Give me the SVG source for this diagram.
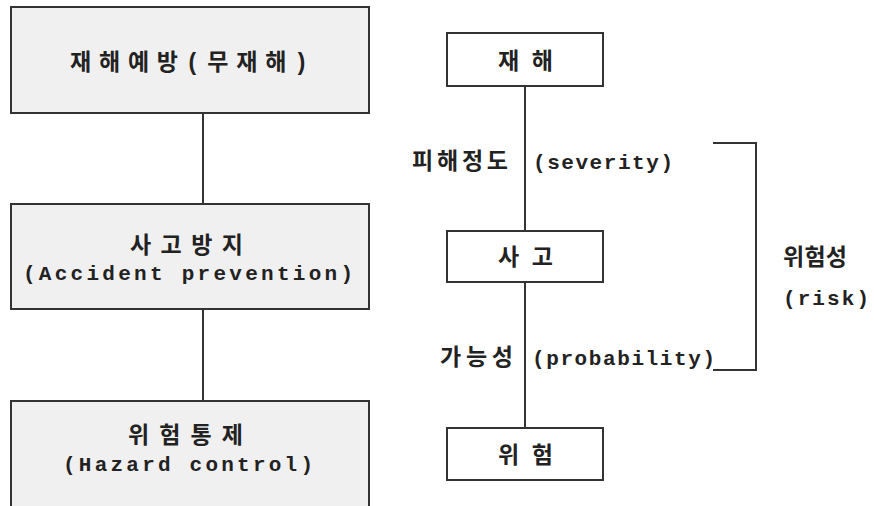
<svg xmlns="http://www.w3.org/2000/svg" width="874" height="506" viewBox="0 0 874 506">
<style>
.box{fill:#f0f0f0;stroke:#333;stroke-width:2}
.wbox{fill:#fff;stroke:#333;stroke-width:2}
.ln{stroke:#333;stroke-width:2;fill:none}
text{font-family:"Liberation Mono","Noto Sans CJK KR",monospace;font-size:21px;font-weight:bold;fill:#222}
.k{font-size:23px}
</style>
<rect width="874" height="506" fill="#fff"/>
<g id="connectors">
<line class="ln" x1="203" y1="113" x2="203" y2="204"/>
<line class="ln" x1="203" y1="309" x2="203" y2="401"/>
<line class="ln" x1="525" y1="86" x2="525" y2="231"/>
<line class="ln" x1="525" y1="282" x2="525" y2="428"/>
<polyline class="ln" points="713,143 756,143 756,370 713,370"/>
</g>
<g id="n1"><rect class="box" x="11" y="7" width="358" height="106"/>
<text class="k" x="70" y="70" textLength="238" lengthAdjust="spacing">재해예방(무재해)</text></g>
<g id="n2"><rect class="box" x="11" y="204" width="358" height="105"/>
<text class="k" x="130" y="253" textLength="113" lengthAdjust="spacing">사고방지</text>
<text x="23" y="280" textLength="330" lengthAdjust="spacing">(Accident prevention)</text></g>
<g id="n3"><rect class="box" x="11" y="401" width="358" height="112"/>
<text class="k" x="128" y="443" textLength="115" lengthAdjust="spacing">위험통제</text>
<text x="63" y="471" textLength="250" lengthAdjust="spacing">(Hazard control)</text></g>
<g id="r1"><rect class="wbox" x="447" y="33" width="156" height="53"/>
<text class="k" x="498" y="69" textLength="55" lengthAdjust="spacing">재해</text></g>
<g id="r2"><rect class="wbox" x="447" y="231" width="156" height="51"/>
<text class="k" x="498" y="265" textLength="55" lengthAdjust="spacing">사고</text></g>
<g id="r3"><rect class="wbox" x="447" y="428" width="156" height="52"/>
<text class="k" x="498" y="463" textLength="55" lengthAdjust="spacing">위험</text></g>
<g id="labels">
<text class="k" x="412" y="169" textLength="96" lengthAdjust="spacing">피해정도</text>
<text x="533" y="169" textLength="140" lengthAdjust="spacing">(severity)</text>
<text class="k" x="440" y="365" textLength="73" lengthAdjust="spacing">가능성</text>
<text x="532" y="365" textLength="183" lengthAdjust="spacing">(probability)</text>
<text class="k" x="783" y="265" textLength="64" lengthAdjust="spacing">위험성</text>
<text x="783" y="305" textLength="86" lengthAdjust="spacing">(risk)</text>
</g>
</svg>
